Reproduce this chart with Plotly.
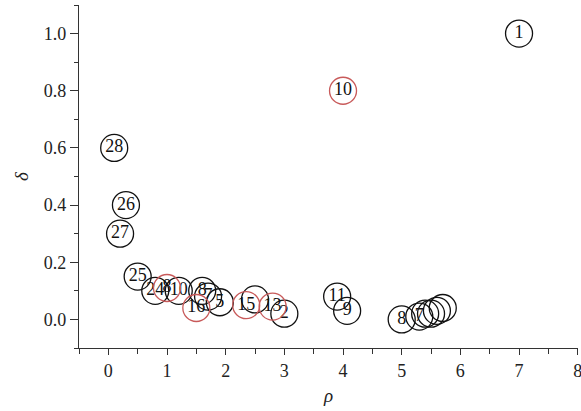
import plotly.graph_objects as go

# Decision graph: local density rho vs. distance delta, one circle per sample
black_rho = [7.0, 0.1, 0.3, 0.2, 0.5, 0.8, 1.2, 1.6, 1.7, 1.9, 2.5, 3.0, 3.9, 4.07, 5.0, 5.3, 5.4, 5.5, 5.6, 5.7]
black_delta = [1.0, 0.6, 0.4, 0.3, 0.15, 0.1, 0.1, 0.1, 0.08, 0.06, 0.07, 0.02, 0.08, 0.03, 0.0, 0.01, 0.02, 0.02, 0.03, 0.04]
black_labels = ["1", "28", "26", "27", "25", "24", "10", "8", "7", "5", "", "2", "11", "9", "8", "7", "", "", "", ""]

red_rho = [4.0, 1.0, 1.5, 2.35, 2.8]
red_delta = [0.8, 0.11, 0.04, 0.05, 0.045]
red_labels = ["10", "8", "16", "15", "13"]

x_ticks = [0, 1, 2, 3, 4, 5, 6, 7, 8]
y_ticks = [0.0, 0.2, 0.4, 0.6, 0.8, 1.0]

SERIF = "Liberation Serif"
AXIS_COLOR = "#333333"

fig = go.Figure()

for xs, ys, labels, color in [
    (black_rho, black_delta, black_labels, "#111111"),
    (red_rho, red_delta, red_labels, "#c85a5a"),
]:
    fig.add_trace(go.Scatter(
        x=xs, y=ys, text=labels,
        mode="markers+text",
        textposition="middle center",
        textfont=dict(family=SERIF, size=18, color="#111111"),
        marker=dict(symbol="circle-open", size=27, color=color,
                    line=dict(width=1.3, color=color)),
        cliponaxis=False,
        showlegend=False,
        hoverinfo="skip",
    ))

axis_common = dict(
    showgrid=False, zeroline=False,
    showline=True, linecolor=AXIS_COLOR, linewidth=1.3,
    ticks="outside", tickcolor=AXIS_COLOR, tickwidth=1.2,
    tickfont=dict(family=SERIF, size=18, color="#222222"),
    ticklabeloverflow="allow",
    automargin=False,
    mirror=False,
)

fig.update_xaxes(
    **axis_common,
    range=[-0.5, 8.005], tickvals=x_ticks, ticklen=6,
    minor=dict(tick0=-0.5, dtick=0.5, ticks="outside", ticklen=5,
               tickcolor=AXIS_COLOR, tickwidth=1.2),
    title=dict(text="<i>ρ</i>", font=dict(family=SERIF, size=19, color="#222222"), standoff=8),
)
fig.update_yaxes(
    **axis_common,
    range=[-0.1, 1.1], tickvals=y_ticks, tickformat=".1f", ticklen=8,
    minor=dict(tick0=0.1, dtick=0.1, ticks="outside", ticklen=4,
               tickcolor=AXIS_COLOR, tickwidth=1.2),
    title=dict(text="<i>δ</i>", font=dict(family=SERIF, size=19, color="#222222"), standoff=10),
)

fig.update_layout(
    width=581, height=411,
    margin=dict(l=79, r=3, t=5, b=63),
    plot_bgcolor="white", paper_bgcolor="white",
)

fig.write_html("out.html")
